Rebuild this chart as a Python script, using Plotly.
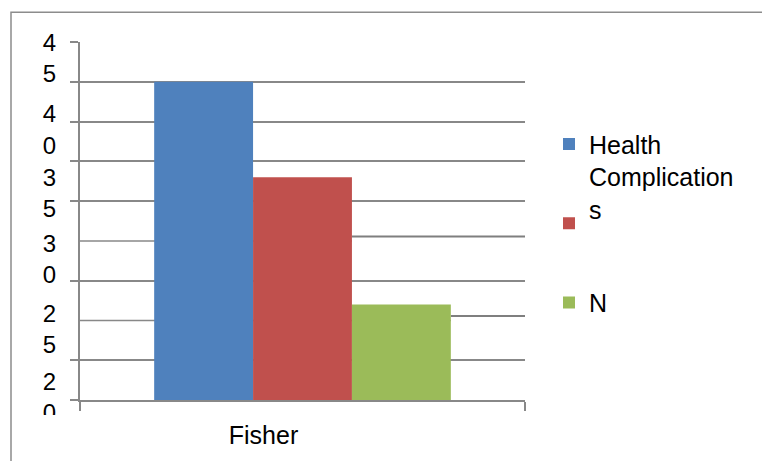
import plotly.graph_objects as go

# ---- data -------------------------------------------------------------
categories = ["Fisher"]
series_names = ["Health<br>Complication<br>s", " ", "N"]
series_values = [40, 28, 12]
series_colors = ["#4F81BD", "#C0504D", "#9BBB59"]

# value axis: 0..45 in steps of 5 (the 10 and 20 rules are drawn as
# separate segments below)
y_range = [0, 45]
grid_values = [0, 5, 15, 25, 30, 35, 40, 45]
# wrapped tick labels and where they sit on the value scale
y_label_text = ["4<br>5", "4<br>0", "3<br>5", "3<br>0", "2<br>5", "2<br>0"]
y_label_pos = [43.0, 34.0, 26.0, 17.7, 8.9, 0.4]

FONT = "Liberation Sans, Arial, sans-serif"
GRID = "#888888"
BARGAP = 1 / 3

fig = go.Figure()
for i, (name, val, col) in enumerate(zip(series_names, series_values, series_colors)):
    fig.add_trace(go.Bar(
        x=categories, y=[val], name=name, showlegend=True,
        marker=dict(color=col, line=dict(width=0)),
        legend="legend" if i == 0 else f"legend{i + 1}",
    ))

# invisible carrier so the label axis is drawn
fig.add_trace(go.Scatter(
    x=categories, y=[0], yaxis="y2", mode="markers",
    marker=dict(opacity=0, size=1), showlegend=False, hoverinfo="skip",
))

# bar edges on the category axis (one category spanning -0.5..0.5)
group_w = 1 - BARGAP
bar_w = group_w / len(series_values)
red_right = -group_w / 2 + 2 * bar_w
green_right = -group_w / 2 + 3 * bar_w
tick_left = -0.5 - 8 / 445
rule_right = 0.5 + 6 / 445

shapes = [
    # outer frame
    dict(type="rect", xref="paper", yref="paper",
         x0=(11 - 80) / 445, y0=-1, x1=2, y1=(403 - 12) / 361,
         line=dict(color="#8C8C8C", width=1.5), fillcolor="rgba(0,0,0,0)",
         layer="below"),
    # 20 rule
    dict(type="line", xref="x", yref="y", x0=tick_left, x1=red_right, y0=20, y1=20,
         line=dict(color=GRID, width=1.5), layer="below"),
    dict(type="line", xref="x", yref="y", x0=red_right, x1=rule_right, y0=20.55, y1=20.55,
         line=dict(color="#7F7F7F", width=2), layer="below"),
    # 10 rule
    dict(type="line", xref="x", yref="y", x0=tick_left, x1=green_right, y0=10, y1=10,
         line=dict(color=GRID, width=1.5), layer="below"),
    dict(type="line", xref="x", yref="y", x0=green_right, x1=rule_right, y0=10.55, y1=10.55,
         line=dict(color="#7F7F7F", width=2), layer="below"),
    # label clipping below the value axis
    dict(type="rect", xref="paper", yref="paper",
         x0=(14 - 80) / 445, x1=(70 - 80) / 445,
         y0=(403 - 470) / 361, y1=(403 - 418) / 361,
         fillcolor="white", line=dict(width=0), layer="above"),
]

legend_common = dict(
    xanchor="left", bgcolor="rgba(0,0,0,0)", borderwidth=0,
    font=dict(family=FONT, size=25, color="#000000"), valign="top",
    x=(549 - 80) / 445, visible=True,
)

fig.update_layout(
    width=762, height=461, autosize=False,
    margin=dict(l=80, r=237, t=42, b=58, pad=0),
    paper_bgcolor="white", plot_bgcolor="white",
    barmode="group", bargap=BARGAP, bargroupgap=0,
    showlegend=True,
    font=dict(family=FONT, size=25, color="#000000"),
    xaxis=dict(
        type="category", range=[-0.5, 0.5], tickson="boundaries",
        ticks="outside", ticklen=9,
        tickwidth=1.5, tickcolor=GRID, showline=True, linecolor=GRID, linewidth=1.5,
        showgrid=False, tickfont=dict(family=FONT, size=25, color="#000000"),
        ticklabelshift=-39, ticklabelstandoff=12,
    ),
    yaxis=dict(
        range=y_range, tickvals=grid_values, showticklabels=False,
        ticks="outside", ticklen=8, tickwidth=1.5, tickcolor=GRID,
        showline=True, linecolor=GRID, linewidth=1.5,
        showgrid=True, gridcolor=GRID, gridwidth=1.5, zeroline=False,
    ),
    yaxis2=dict(
        overlaying="y", side="left", anchor="x", range=y_range,
        tickvals=y_label_pos, ticktext=y_label_text, ticks="",
        showgrid=False, showline=False, zeroline=False,
        tickfont=dict(family=FONT, size=24, color="#000000"),
        ticklabelstandoff=23,
    ),
    legend=dict(legend_common, y=(403 - 122) / 361, yanchor="top"),
    legend2=dict(legend_common, y=(403 - 225) / 361, yanchor="middle"),
    legend3=dict(legend_common, y=(403 - 305) / 361, yanchor="middle"),
    shapes=shapes,
)

fig.write_html("out.html")
